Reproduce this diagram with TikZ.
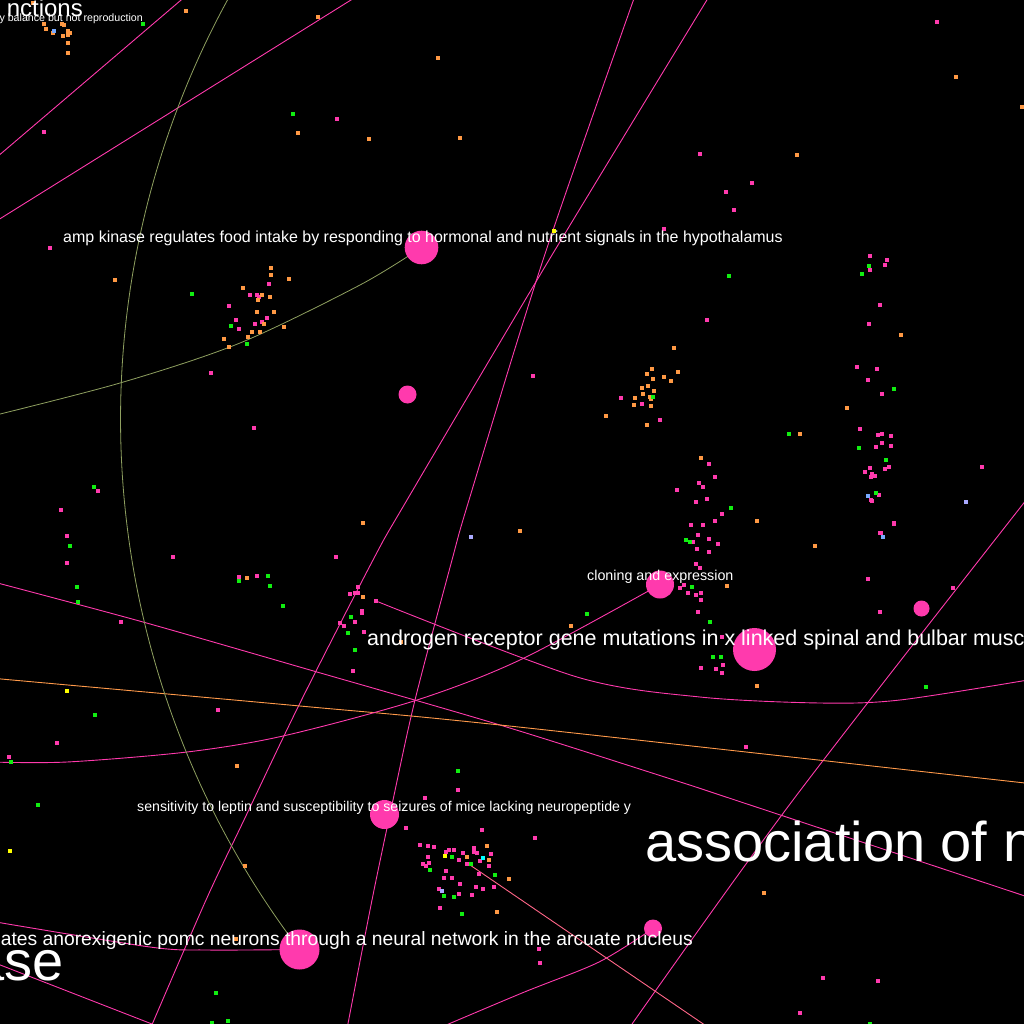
\documentclass[tikz,border=0pt]{standalone}
\usepackage{fontspec}
\setmainfont{Liberation Sans}
\definecolor{pk}{HTML}{FF3AAD}
\definecolor{orl}{HTML}{FF9A4A}
\definecolor{grl}{HTML}{8FA060}
\definecolor{sal}{HTML}{FF6688}
\definecolor{dor}{HTML}{FF9944}
\definecolor{dgr}{HTML}{11EE11}
\definecolor{dlb}{HTML}{77AAFF}
\definecolor{dlv}{HTML}{AAAAFF}
\definecolor{dye}{HTML}{FFFF00}
\definecolor{dcy}{HTML}{00FFFF}
\begin{document}
\begin{tikzpicture}[x=1pt,y=-1pt,
  edge/.style={pk, line width=0.9pt},
  hub/.style={circle, fill=pk, inner sep=0pt, minimum size=#1},
  lbl/.style={text=white, inner sep=0pt},
  dot/.style={fill=#1}]
\useasboundingbox (0,0) rectangle (1024,1024);
\fill[black] (0,0) rectangle (1024,1024);
\clip (0,0) rectangle (1024,1024);
% hub positions
\coordinate (c1) at (421.5,247.5);
\coordinate (c2) at (407.5,394.5);
\coordinate (c3) at (660,584.5);
\coordinate (c4) at (754.5,649.5);
\coordinate (c5) at (921.5,608.5);
\coordinate (c6) at (384.5,814.5);
\coordinate (c7) at (299.5,949.5);
\coordinate (c8) at (653,928.5);
% free ends
\coordinate (a1) at (-10,163); \coordinate (a2) at (194,-11);
\coordinate (b1) at (-10,225); \coordinate (b2) at (367,-10);
\coordinate (cT) at (637,-10); \coordinate (cB) at (346,1034);
\coordinate (dT) at (713,-10); \coordinate (dB) at (148,1034);
\coordinate (eL) at (-10,581); \coordinate (eR) at (1034,899);
\coordinate (fL) at (-10,678); \coordinate (fR) at (1034,784);
\coordinate (gL) at (-10,762);
\coordinate (hS) at (376,601); \coordinate (hR) at (1034,679);
\coordinate (iT) at (1034,490); \coordinate (iB) at (625,1034);
\coordinate (jL) at (-10,921);
\coordinate (kL) at (-10,961); \coordinate (kB) at (152,1024);
\coordinate (lB) at (425,1034);
\coordinate (mS) at (470,865); \coordinate (mB) at (718,1034);
\coordinate (vL) at (-20,419);
% edges
\draw[edge] (a1) -- (a2);
\draw[edge] (b1) -- (b2);
\draw[edge] plot[smooth] coordinates {(cT) (543,260) (469,500) (452,560) (415,700) (393,800) (372,900) (cB)};
\draw[edge] plot[smooth] coordinates {(dT) (549,260) (407,500) (373,560) (300,703) (244,820) (206,900) (dB)};
\draw[edge] plot[smooth] coordinates {(eL) (143,622) (317,672) (500,725) (674,780) (735,800) (eR)};
\draw[orl, line width=0.9pt] plot[smooth] coordinates {(fL) (300,706) (500,725) (fR)};
\draw[edge] plot[smooth] coordinates {(gL) (67,762) (187,752) (283,736) (417,700) (522,659) (c3)};
\draw[edge] plot[smooth] coordinates {(hS) (577,677) (700,697) (820,703) (900,700) (hR)};
\draw[edge] plot[smooth] coordinates {(iT) (793,800) (iB)};
\draw[edge] plot[smooth] coordinates {(jL) (150,947) (207,950) (c7)};
\draw[edge] (kL) -- (kB);
\draw[edge] plot[smooth] coordinates {(c8) (599,962) (522,993) (lB)};
\draw[sal, line width=0.9pt] (mS) -- (mB);
\draw[grl, line width=0.8pt] (c7) arc[start angle=217.3, end angle=146, radius=875pt];
\draw[grl, line width=0.8pt] plot[smooth] coordinates {(vL) (120,383) (240,343) (360,285) (c1)};
% dots
\foreach \x/\y in {44/132,337/119,50/248,700/154,726/192,752/183,734/210,664/229,937/22,
 269/284,250/295,257/295,259/297,229/306,267/318,236/320,239/329,255/324,262/322,
 211/373,254/428,98/491,61/510,67/536,67/563,121/622,173/557,239/577,257/576,218/710,57/743,9/757,
 358/587,355/593,358/593,350/594,376/601,362/611,362/613,355/622,340/623,344/626,364/632,353/671,336/557,
 458/790,425/798,533/376,707/320,621/398,642/404,660/420,
 709/464,715/477,699/483,703/487,677/490,696/502,707/499,722/514,715/521,691/525,703/525,698/535,709/539,
 693/542,718/544,697/549,709/552,696/564,700/568,680/588,684/585,688/593,696/595,701/593,701/600,698/612,722/637,
 723/665,701/668,716/669,722/673,894/524,881/533,872/501,868/579,953/588,880/612,746/747,
 870/256,887/260,885/265,870/270,880/305,869/324,857/367,877/369,868/380,882/394,860/429,878/435,882/434,
 891/436,882/443,891/446,876/447,885/469,889/467,870/468,865/472,872/474,875/476,871/477,879/495,871/500,
 894/523,880/533,982/467,
 406/828,482/830,535/838,420/845,428/846,434/847,449/850,446/852,454/850,474/848,463/853,474/852,477/853,
 491/854,428/857,459/860,480/861,423/864,426/866,429/863,467/864,489/866,446/871,479/874,444/878,452/878,
 460/884,476/887,483/889,494/887,439/889,459/894,472/895,440/908,539/949,540/963,823/978,878/981,800/1013}
 \fill[dot=pk] (\x,\y) +(-1.8,-1.8) rectangle +(1.8,1.8);
\foreach \x/\y in {33/3,44/24,46/29,53/33,62/24,64/25,68/31,70/33,68/35,63/36,68/43,68/53,186/11,318/17,438/58,
 298/133,369/139,460/138,956/77,1022/107,797/155,
 115/280,271/268,271/275,289/279,243/288,262/295,270/297,258/300,257/312,274/312,264/324,284/327,252/332,
 260/332,248/337,224/339,229/347,363/523,520/531,247/578,363/597,401/642,237/766,245/866,
 674/348,652/369,678/372,647/374,653/379,664/377,671/381,642/388,648/386,643/394,654/391,635/398,650/397,
 651/399,634/405,651/406,606/416,647/425,701/458,757/521,815/546,727/586,571/626,757/686,901/335,847/408,
 800/434,487/846,467/857,489/860,509/879,497/912,764/893,236/939}
 \fill[dot=dor] (\x,\y) +(-1.8,-1.8) rectangle +(1.8,1.8);
\foreach \x/\y in {143/24,293/114,192/294,231/326,247/344,94/487,70/546,77/587,78/602,239/581,268/576,270/586,
 283/606,351/617,348/633,355/650,95/715,11/762,38/805,458/771,729/276,731/508,686/540,690/542,692/587,587/614,
 710/622,713/657,721/657,926/687,869/266,862/274,894/389,859/448,886/460,876/493,653/397,789/434,
 452/857,471/864,430/870,495/875,444/896,454/897,462/914,216/993,228/1021,212/1023,870/1024}
 \fill[dot=dgr] (\x,\y) +(-1.8,-1.8) rectangle +(1.8,1.8);
\foreach \x/\y in {54/31,868/496,883/537}
 \fill[dot=dlb] (\x,\y) +(-1.8,-1.8) rectangle +(1.8,1.8);
\foreach \x/\y in {471/537,966/502,442/891}
 \fill[dot=dlv] (\x,\y) +(-1.8,-1.8) rectangle +(1.8,1.8);
\foreach \x/\y in {554/231,67/691,445/856,10/851}
 \fill[dot=dye] (\x,\y) +(-1.8,-1.8) rectangle +(1.8,1.8);
\fill[dot=dcy] (483,858) +(-1.8,-1.8) rectangle +(1.8,1.8);
% hubs
\node[hub=33.6pt] (n1) at (c1) {};
\node[hub=18pt] (n2) at (c2) {};
\node[hub=28pt] (n3) at (c3) {};
\node[hub=43pt] (n4) at (c4) {};
\node[hub=16pt] (n5) at (c5) {};
\node[hub=29pt] (n6) at (c6) {};
\node[hub=40pt] (n7) at (c7) {};
\node[hub=18pt] (n8) at (c8) {};
% labels
\node[lbl, anchor=base west, font=\fontsize{16}{16}\selectfont] (t1) at (63,243) {amp kinase regulates food intake by responding to hormonal and nutrient signals in the hypothalamus};
\node[lbl, anchor=base west, font=\fontsize{14.3}{14.3}\selectfont] (t2) at (587,580) {cloning and expression};
\node[lbl, anchor=base west, font=\fontsize{21.5}{21.5}\selectfont] (t3) at (367,645) {androgen receptor gene mutations in x linked spinal and bulbar musc};
\node[lbl, anchor=base west, font=\fontsize{14.15}{14.15}\selectfont] (t4) at (137,811) {sensitivity to leptin and susceptibility to seizures of mice lacking neuropeptide y};
\node[lbl, anchor=base east, font=\fontsize{19.3}{19.3}\selectfont] (t5) at (693,945) {ates anorexigenic pomc neurons through a neural network in the arcuate nucleus};
\node[lbl, anchor=base west, font=\fontsize{56}{56}\selectfont] (t6) at (645,861) {association of n};
\node[lbl, anchor=base east, font=\fontsize{56}{56}\selectfont] (t7) at (64,980) {ase};
\node[lbl, anchor=base east, font=\fontsize{24}{24}\selectfont] (t8) at (83,17) {nctions};
\node[lbl, anchor=base east, font=\fontsize{10.65}{10.65}\selectfont] (t9) at (143,22) {y balance but not reproduction};
\end{tikzpicture}
\end{document}
